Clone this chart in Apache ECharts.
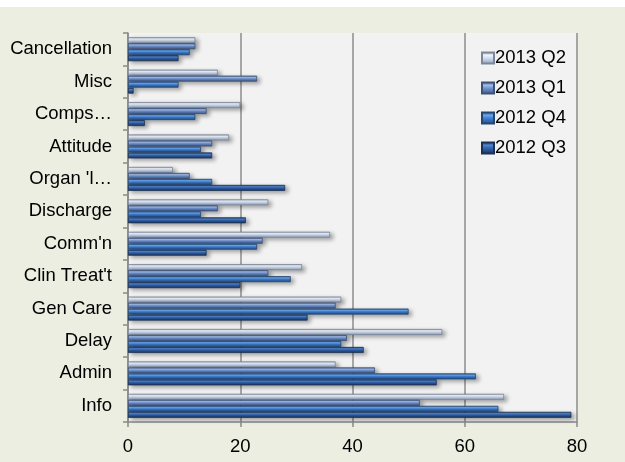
<!DOCTYPE html>
<html>
<head>
<meta charset="utf-8">
<script src="https://cdn.jsdelivr.net/npm/echarts@6/dist/echarts.min.js"></script>
<style>
  html, body { margin: 0; padding: 0; background: #ffffff; }
  #chart { position: absolute; left: 0; top: 7px; width: 625px; height: 455px; }
</style>
</head>
<body>
<div id="chart"></div>
<script>
// Complaint categories, listed from the bottom of the axis upward
const categories = ["Info", "Admin", "Delay", "Gen Care", "Clin Treat't", "Comm'n",
  "Discharge", "Organ 'l…", "Attitude", "Comps…", "Misc", "Cancellation"];

// Quarterly counts per category (same order as categories)
const q2_2013 = [67, 37, 56, 38, 31, 36, 25, 8, 18, 20, 16, 12];
const q1_2013 = [52, 44, 39, 37, 25, 24, 16, 11, 15, 14, 23, 12];
const q4_2012 = [66, 62, 38, 50, 29, 23, 13, 15, 13, 12, 9, 11];
const q3_2012 = [79, 55, 42, 32, 20, 14, 21, 28, 15, 3, 1, 9];

const seriesNames = ["2013 Q2", "2013 Q1", "2012 Q4", "2012 Q3"];
const xTicks = [0, 20, 40, 60, 80];

// Tube look: darker edges, a bright streak just above the middle
function bevel(edge, hi, mid, low) {
  return new echarts.graphic.LinearGradient(0, 0, 0, 1, [
    { offset: 0, color: edge },
    { offset: 0.3, color: hi },
    { offset: 0.55, color: mid },
    { offset: 1, color: low }
  ]);
}

const palette = [
  bevel('#9aa6b8', '#eef4fc', '#c8d8ef', '#8e9bb0'),
  bevel('#4d6590', '#9fbbe8', '#6a8fce', '#3f5680'),
  bevel('#2b5590', '#6aa6ec', '#3a7bd0', '#244a80'),
  bevel('#1f3c66', '#4f84cc', '#2e5ea8', '#1b3459')
];
const borders = ['#7d8798', '#3e5277', '#27466f', '#1a3154'];

const values = [q2_2013, q1_2013, q4_2012, q3_2012];

const font = "'Liberation Sans', Arial, sans-serif";

const chart = echarts.init(document.getElementById('chart'), null, { renderer: 'canvas' });

chart.setOption({
  backgroundColor: '#ebeee0',
  animation: false,
  textStyle: { fontFamily: font },
  grid: {
    left: 128, right: 48, top: 26, bottom: 40,
    show: true, backgroundColor: '#f2f2f2', borderWidth: 0
  },
  legend: {
    orient: 'vertical',
    left: 476, top: 36,
    itemWidth: 12, itemHeight: 11, itemGap: 10,
    icon: 'rect',
    textStyle: { fontFamily: font, fontSize: 18.5, color: '#000', padding: [0, 0, 0, -4], lineHeight: 20 },
    data: seriesNames
  },
  xAxis: {
    type: 'value',
    min: xTicks[0], max: xTicks[xTicks.length - 1], interval: 20,
    axisLine: { show: true, lineStyle: { color: '#8a8a8a', width: 1.5 } },
    axisTick: { show: true, length: 5, lineStyle: { color: '#8a8a8a', width: 1.5 } },
    axisLabel: { fontSize: 18.5, color: '#000', margin: 15, fontFamily: font },
    splitLine: { show: true, lineStyle: { color: '#8c8c8c', width: 1.5 } }
  },
  yAxis: {
    type: 'category',
    data: categories,
    axisLine: { show: true, lineStyle: { color: '#8a8a8a', width: 1.5 } },
    axisTick: { show: true, length: 5, lineStyle: { color: '#8a8a8a', width: 1.5 } },
    axisLabel: { fontSize: 18.5, color: '#000', margin: 16, fontFamily: font },
    splitLine: { show: false }
  },
  series: seriesNames.map((name, i) => ({
    name: name,
    type: 'bar',
    data: values[i],
    barGap: '0%',
    barCategoryGap: '26%',
    itemStyle: {
      color: palette[i],
      borderColor: borders[i],
      borderWidth: 0.8,
      shadowColor: 'rgba(0,0,0,0.35)',
      shadowBlur: 4,
      shadowOffsetX: 3,
      shadowOffsetY: 2
    }
  }))
});
</script>
</body>
</html>
